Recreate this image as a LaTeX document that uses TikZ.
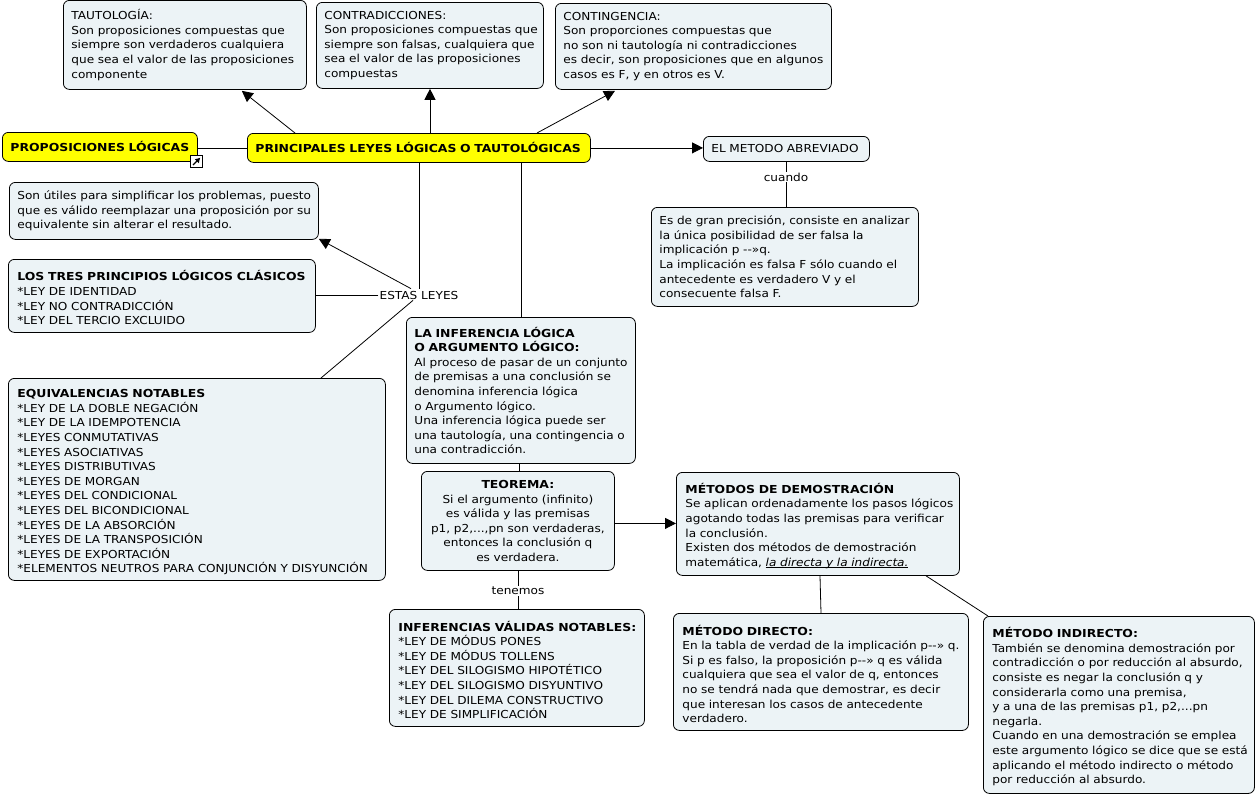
\documentclass[tikz,border=0pt]{standalone}
\usepackage{fontspec}
\setmainfont[FakeStretch=1.1, BoldFeatures={FakeStretch=1.13}, ItalicFeatures={FakeStretch=1.1}]{DejaVu Sans}
\usepackage{xcolor}
\usetikzlibrary{arrows.meta,positioning}
\definecolor{boxfill}{HTML}{ECF3F6}
\definecolor{mainfill}{HTML}{FFFF00}
\newcommand{\lowline}[1]{\setbox0\hbox{#1}\rlap{\rule[-1.7pt]{\wd0}{0.6pt}}\box0}

\begin{document}
\begin{tikzpicture}[
    x=1pt, y=-1pt,
    font=\fontsize{11}{14.6}\selectfont,
    basebox/.style={draw, line width=0.8pt, rounded corners=6pt, fill=boxfill, anchor=north west, inner ysep=0pt},
    box/.style={basebox, align=left, inner xsep=5pt, execute at begin node={\leftskip=3pt\relax}},
    lowbox/.style={basebox, align=left, inner xsep=5pt, execute at begin node={\leftskip=4pt\relax\rule{0pt}{14pt}}},
    mainbox/.style={box, fill=mainfill, font=\fontsize{11}{14.6}\selectfont\bfseries},
    lawbox/.style={basebox, align=center, inner xsep=8pt},
    tag/.style={inner sep=1pt},
    arrow/.style={-{Triangle[length=11pt, width=11pt]}, line width=0.8pt},
    link/.style={line width=0.8pt}
]
\path[use as bounding box] (0,0) rectangle (1256,796);

% --- top row ---
\node[box, text width=233pt, minimum height=89pt] (taut) at (63,0) {TAUTOLOGÍA:\\Son proposiciones compuestas que\\siempre son verdaderos cualquiera\\que sea el valor de las proposiciones\\componente};
\node[box, text width=217pt, minimum height=86pt] (contra) at (316,2) {CONTRADICCIONES:\\Son proposiciones compuestas que\\siempre son falsas, cualquiera que\\sea el valor de las proposiciones\\compuestas};
\node[box, text width=266pt, minimum height=86pt] (conting) at (555,3) {CONTINGENCIA:\\Son proporciones compuestas que\\no son ni tautología ni contradicciones\\es decir, son proposiciones que en algunos\\casos es F, y en otros es V.};

% --- main row ---
\node[mainbox, text width=185pt, minimum height=29pt] (prop) at (2,132) {PROPOSICIONES LÓGICAS};
\node[mainbox, text width=333pt, minimum height=29pt] (princ) at (247,133) {PRINCIPALES LEYES LÓGICAS O TAUTOLÓGICAS};
\node[box, text width=156pt, minimum height=25pt] (abrev) at (703,136) {EL METODO ABREVIADO};
\node[draw, line width=0.8pt, fill=white, minimum size=12pt, inner sep=0pt] (icon) at (196.5,161.5) {};
\draw[-{Latex[length=5pt, width=6pt]}, line width=1.4pt] ([shift={(3pt,3pt)}]icon.south west) -- ([shift={(-2.5pt,-2.5pt)}]icon.north east);

% --- left column ---
\node[box, text width=299pt, minimum height=57pt] (util) at (9,182) {Son útiles para simplificar los problemas, puesto\\que es válido reemplazar una proposición por su\\equivalente sin alterar el resultado.};
\node[lowbox, text width=297pt, minimum height=73pt] (tres) at (8,259) {\textbf{LOS TRES PRINCIPIOS LÓGICOS CLÁSICOS}\\{}*LEY DE IDENTIDAD\\{}*LEY NO CONTRADICCIÓN\\{}*LEY DEL TERCIO EXCLUIDO};
\node[lowbox, text width=367pt, minimum height=202pt] (equiv) at (8,378) {\textbf{EQUIVALENCIAS NOTABLES}\\{}*LEY DE LA DOBLE NEGACIÓN\\{}*LEY DE LA IDEMPOTENCIA\\{}*LEYES CONMUTATIVAS\\{}*LEYES ASOCIATIVAS\\{}*LEYES DISTRIBUTIVAS\\{}*LEYES DE MORGAN\\{}*LEYES DEL CONDICIONAL\\{}*LEYES DEL BICONDICIONAL\\{}*LEYES DE LA ABSORCIÓN\\{}*LEYES DE LA TRANSPOSICIÓN\\{}*LEYES DE EXPORTACIÓN\\{}*ELEMENTOS NEUTROS PARA CONJUNCIÓN Y DISYUNCIÓN};

% --- middle column ---
\node[box, text width=219pt, minimum height=146pt] (infer) at (406,317) {\textbf{LA INFERENCIA LÓGICA}\\\textbf{O ARGUMENTO LÓGICO:}\\Al proceso de pasar de un conjunto\\de premisas a una conclusión se\\denomina inferencia lógica\\o Argumento lógico.\\Una inferencia lógica puede ser\\una tautología, una contingencia o\\una contradicción.};
\node[lawbox, text width=177pt, minimum height=99pt] (teo) at (421,471) {\textbf{TEOREMA:}\\Si el argumento (infinito)\\es válida y las premisas\\p1, p2,...,pn son verdaderas,\\entonces la conclusión q\\es verdadera.};
\node[lowbox, text width=245pt, minimum height=117pt] (notables) at (389,609) {\textbf{INFERENCIAS VÁLIDAS NOTABLES:}\\{}*LEY DE MÓDUS PONES\\{}*LEY DE MÓDUS TOLLENS\\{}*LEY DEL SILOGISMO HIPOTÉTICO\\{}*LEY DEL SILOGISMO DISYUNTIVO\\{}*LEY DEL DILEMA CONSTRUCTIVO\\{}*LEY DE SIMPLIFICACIÓN};

% --- right column ---
\node[box, text width=257pt, minimum height=99pt] (precision) at (651,207) {Es de gran precisión, consiste en analizar\\la única posibilidad de ser falsa la\\implicación p -{}-»q.\\La implicación es falsa F sólo cuando el\\antecedente es verdadero V y el\\consecuente falsa F.};
\node[lowbox, text width=273pt, minimum height=103pt] (metodos) at (676,472) {\textbf{MÉTODOS DE DEMOSTRACIÓN}\\Se aplican ordenadamente los pasos lógicos\\agotando todas las premisas para verificar\\la conclusión.\\Existen dos métodos de demostración\\matemática, \lowline{\textit{la directa y la indirecta.}}};
\node[lowbox, text width=285pt, minimum height=117pt] (directo) at (673,613) {\textbf{MÉTODO DIRECTO:}\\En la tabla de verdad de la implicación p-{}-» q.\\Si p es falso, la proposición p-{}-» q es válida\\cualquiera que sea el valor de q, entonces\\no se tendrá nada que demostrar, es decir\\que interesan los casos de antecedente\\verdadero.};
\node[lowbox, text width=261pt, minimum height=177pt] (indirecto) at (983,616) {\textbf{MÉTODO INDIRECTO:}\\También se denomina demostración por\\contradicción o por reducción al absurdo,\\consiste es negar la conclusión q y\\considerarla como una premisa,\\y a una de las premisas p1, p2,...pn\\negarla.\\Cuando en una demostración se emplea\\este argumento lógico se dice que se está\\aplicando el método indirecto o método\\por reducción al absurdo.};

% --- connector labels ---
\node[tag] (leyes) at (419,295) {ESTAS LEYES};
\node[tag] (cuando) at (786,177) {cuando};
\node[tag] (tenemos) at (518,591) {tenemos};

% arrows
\draw[link] (prop.east |- princ.west) -- (princ.west);
\draw[arrow] ([xshift=48pt]princ.north west) -- ([shift={(-65pt,-1pt)}]taut.south east);
\draw[arrow] ([xshift=183pt]princ.north west) -- ([xshift=114pt]contra.south west);
\draw[arrow] ([xshift=290pt]princ.north west) -- ([shift={(60pt,-1pt)}]conting.south west);
\draw[arrow] (princ.east) -- (abrev.west |- princ.east);
\draw[link] (abrev.south -| cuando) -- (cuando);
\draw[link] (cuando) -- (precision.north -| cuando);
\draw[link] ([xshift=172pt]princ.south west) -- ([yshift=1pt]leyes.north -| 419,0);
\draw[arrow] ([xshift=-8pt,yshift=1pt]leyes.north) -- ([shift={(0pt,1pt)}]util.south east);
\draw[link] (leyes.west) -- (tres.east |- leyes.west);
\draw[link] ([xshift=-6pt]leyes.south) -- ([xshift=313pt]equiv.north west);
\draw[link] ([xshift=274pt]princ.south west) -- ([xshift=115pt]infer.north west);
\draw[link] ([xshift=113pt]infer.south west) -- ([xshift=98pt]teo.north west);
\draw[arrow] ([yshift=-2.5pt]teo.east) -- ([yshift=-2.5pt]metodos.west |- teo.east);
\draw[link] ([xshift=97pt]teo.south west) -- (tenemos.north -| 518,0);
\draw[link] (tenemos.south -| 518,0) -- ([xshift=129pt]notables.north west);
\draw[link] ([xshift=144pt]metodos.south west) -- ([xshift=148pt]directo.north west);
\draw[link] ([xshift=250pt]metodos.south west) -- ([xshift=5pt]indirecto.north west);

\end{tikzpicture}
\end{document}
